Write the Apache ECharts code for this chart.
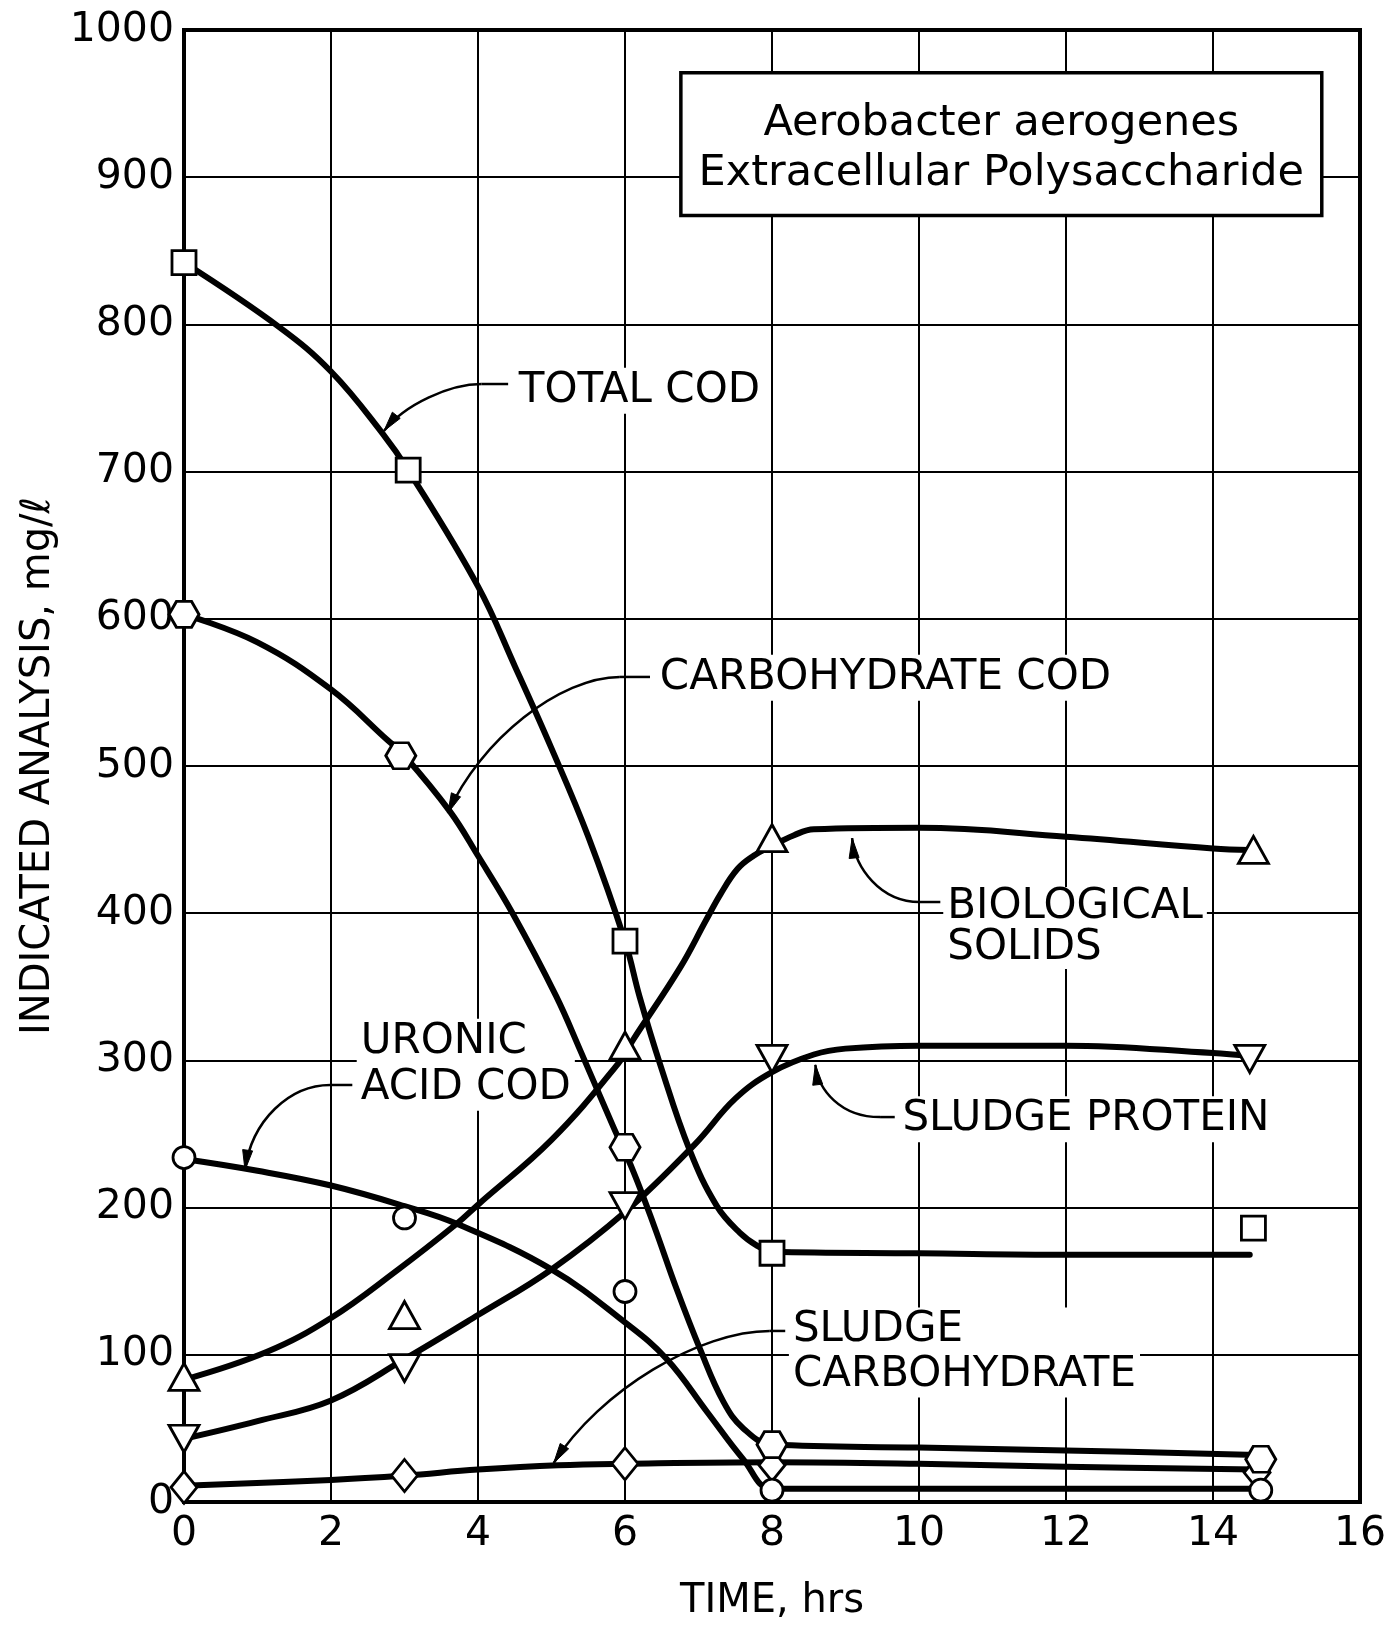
<!DOCTYPE html>
<html>
<head>
<meta charset="utf-8">
<script src="https://cdn.jsdelivr.net/npm/echarts/dist/echarts.min.js"></script>
<style>
html,body{margin:0;padding:0;background:#fff;}
#c{width:1393px;height:1625px;}
</style>
</head>
<body>
<div id="c"></div>
<script>
// ---------- DATA ----------
const xTicks = [0, 2, 4, 6, 8, 10, 12, 14, 16];
const yTicks = [0, 100, 200, 300, 400, 500, 600, 700, 800, 900, 1000];

// measured points (markers)
const totalCodPoints = [[0, 842], [3.05, 701], [6, 381], [8, 169], [14.55, 186]];
const carbCodPoints = [[0, 603], [2.95, 507], [6, 241], [8, 39], [14.65, 29]];
const uronicPoints = [[0, 234], [3, 193], [6, 143], [8, 8], [14.65, 8]];
const bioSolidsPoints = [[0, 85], [3, 127], [6, 310], [8, 451], [14.55, 443]];
const proteinPoints = [[0, 43], [3, 91], [6, 201], [8, 301], [14.5, 301]];
const sludgeCarbPoints = [[0, 10], [3, 18], [6, 26], [8, 25], [14.6, 20]];

// hand-drawn curves
const totalCodCurve = [[0, 842], [1.3, 798], [2, 768], [2.7, 726], [3.05, 701], [4, 622], [4.5, 568], [5, 512], [5.5, 452], [6, 381], [6.2, 343], [6.48, 297], [6.88, 239], [7.25, 201], [7.56, 183], [7.8, 174], [8, 170], [10, 169], [12, 168], [14.5, 168]];
const carbCodCurve = [[0, 603], [1, 584], [2, 552], [2.76, 518], [3, 507], [3.62, 469], [4, 439], [4.47, 400], [5.06, 344], [5.39, 307], [5.84, 255], [6.11, 225], [6.4, 187], [6.7, 145], [7.02, 104], [7.34, 68], [7.61, 50], [8, 39], [10, 37], [12, 35], [14.6, 32]];
const uronicCurve = [[0, 233], [1, 225], [2, 215], [3, 201], [3.71, 189], [5, 158], [6, 122], [6.57, 97], [7.12, 61], [7.61, 29], [8, 9], [10, 9], [12, 9], [14.6, 9]];
const bioSolidsCurve = [[0, 83], [1.13, 102], [2, 125], [2.89, 157], [3.71, 189], [4, 202], [5, 246], [5.91, 298], [6.11, 314], [6.75, 363], [7.1, 395], [7.3, 413], [7.53, 430], [7.75, 439], [7.97, 445], [8.3, 453], [8.57, 457], [10, 458], [12, 452], [14, 444], [14.5, 443]];
const proteinCurve = [[0, 43], [1, 55], [2, 69], [3, 97], [4, 127], [5, 158], [6, 197], [6.95, 243], [7.5, 274], [8, 292], [8.57, 304], [9, 308], [10, 310], [12, 310], [14, 305], [14.5, 303]];
const sludgeCarbCurve = [[0, 11], [2, 15], [3, 18], [4, 22], [5.09, 25], [6, 26], [8, 27], [10, 26], [12, 24], [14.6, 22]];

const labelTexts = ['TOTAL COD', 'CARBOHYDRATE COD', 'BIOLOGICAL\nSOLIDS', 'SLUDGE PROTEIN', 'URONIC\nACID COD', 'SLUDGE\nCARBOHYDRATE'];
const boxLines = ['Aerobacter aerogenes', 'Extracellular Polysaccharide'];

// ---------- LAYOUT (annotation anchors in data space) ----------
const labelAnchors = [[4.5, 755], [6.42, 560], [10.33, 390], [9.72, 260], [2.35, 297], [8.23, 101.6]];
const labelLineHeights = [46, 46, 41, 46, 46, 45];
// [from, start, c1, c2, tip]
const leaderPaths = [
  [[4.41, 759.5], [4.05, 759.5], [3.62, 759.5], [3.01, 746], [2.72, 727.6]],
  [[6.34, 560.5], [5.93, 560.5], [5.12, 560.5], [4.03, 517.7], [3.59, 468]],
  [[10.29, 407.6], [10.01, 407.6], [9.47, 407.6], [9.13, 431], [9.09, 451]],
  [[9.67, 261.5], [9.47, 261.5], [8.93, 261.5], [8.63, 280], [8.59, 297]],
  [[2.29, 283.3], [1.99, 283.3], [1.44, 283.3], [0.92, 259.5], [0.83, 225.5]],
  [[8.18, 116.2], [7.97, 116.2], [7.02, 116.2], [5.66, 76], [5.03, 26.5]]
];
const boxCorners = [[6.76, 971], [15.48, 874]];

const F = '"DejaVu Sans", sans-serif';
const HEX = 'path://M0,43.3 L25,0 L75,0 L100,43.3 L75,86.6 L25,86.6 Z';

function curve(name, data) {
  return {
    type: 'line', name: name + ' curve', data: data, smooth: 0.4, symbol: 'none', showSymbol: false,
    lineStyle: { color: '#000', width: 6, cap: 'round', join: 'round' }, z: 3, silent: true
  };
}
function marks(name, data, symbol, size, rot) {
  return {
    type: 'scatter', name: name, data: data, symbol: symbol, symbolSize: size, symbolRotate: rot || 0,
    symbolKeepAspect: false,
    itemStyle: { color: '#fff', borderColor: '#000', borderWidth: 2.8, opacity: 1 }, z: 5, silent: true
  };
}
function plain(v) { return String(v); }

const option = {
  animation: false,
  backgroundColor: '#fff',
  grid: { left: 184, right: 33, top: 30, bottom: 123, show: true, borderColor: '#000', borderWidth: 4, backgroundColor: 'transparent', outerBoundsMode: 'none', containLabel: false },
  xAxis: {
    type: 'value', min: xTicks[0], max: xTicks[xTicks.length - 1], interval: xTicks[1] - xTicks[0],
    name: 'TIME, hrs', nameLocation: 'middle', nameGap: 80,
    nameTextStyle: { fontFamily: F, fontSize: 40, color: '#000' },
    axisLine: { show: true, onZero: false, lineStyle: { color: '#000', width: 4 } },
    axisTick: { show: false },
    axisLabel: { fontFamily: F, fontSize: 41, color: '#000', margin: 12, formatter: plain },
    splitLine: { show: true, lineStyle: { color: '#000', width: 2 } }
  },
  yAxis: {
    type: 'value', min: yTicks[0], max: yTicks[yTicks.length - 1], interval: yTicks[1] - yTicks[0],
    name: 'INDICATED ANALYSIS, mg/\u2113', nameLocation: 'middle', nameRotate: 90, nameGap: 115,
    nameTextStyle: { fontFamily: F, fontSize: 40, color: '#000' },
    axisLine: { show: true, onZero: false, lineStyle: { color: '#000', width: 4 } },
    axisTick: { show: false },
    axisLabel: { fontFamily: F, fontSize: 41, color: '#000', margin: 10, formatter: plain },
    splitLine: { show: true, lineStyle: { color: '#000', width: 2 } }
  },
  series: [
    curve('Total COD', totalCodCurve),
    curve('Carbohydrate COD', carbCodCurve),
    curve('Uronic acid COD', uronicCurve),
    curve('Biological solids', bioSolidsCurve),
    curve('Sludge protein', proteinCurve),
    curve('Sludge carbohydrate', sludgeCarbCurve),
    marks('Sludge carbohydrate', sludgeCarbPoints, 'diamond', [26, 32]),
    marks('Sludge protein', proteinPoints, 'triangle', [30, 27], 180),
    marks('Biological solids', bioSolidsPoints, 'triangle', [30, 27]),
    marks('Uronic acid COD', uronicPoints, 'circle', 22),
    marks('Carbohydrate COD', carbCodPoints, HEX, [30, 26]),
    marks('Total COD', totalCodPoints, 'rect', 24)
  ]
};

const chart = echarts.init(document.getElementById('c'), null, { renderer: 'canvas' });
chart.setOption(option);

function P(pt) { return chart.convertToPixel({ gridIndex: 0 }, pt); }

const g = [];
// curve labels with white backing (break gridlines)
labelTexts.forEach(function (t, i) {
  const p = P(labelAnchors[i]);
  g.push({
    type: 'text', x: p[0], y: p[1], z: 1, silent: true,
    style: {
      text: t, fill: '#000', fontFamily: F, fontSize: 42, lineHeight: labelLineHeights[i],
      align: 'left', verticalAlign: 'middle', textAlign: 'left', textVerticalAlign: 'middle',
      backgroundColor: '#fff', padding: [0, 4, 0, 4]
    }
  });
});
// leader lines with arrowheads
leaderPaths.forEach(function (lp) {
  const a = P(lp[0]), b = P(lp[1]), c1 = P(lp[2]), c2 = P(lp[3]), t = P(lp[4]);
  g.push({ type: 'line', z: 4, silent: true, shape: { x1: a[0], y1: a[1], x2: b[0], y2: b[1] }, style: { stroke: '#000', lineWidth: 2.5 } });
  g.push({ type: 'bezierCurve', z: 4, silent: true, shape: { x1: b[0], y1: b[1], cpx1: c1[0], cpy1: c1[1], cpx2: c2[0], cpy2: c2[1], x2: t[0], y2: t[1] }, style: { stroke: '#000', lineWidth: 2.5, fill: null } });
  let dx = t[0] - c2[0], dy = t[1] - c2[1];
  const L = Math.sqrt(dx * dx + dy * dy) || 1; dx /= L; dy /= L;
  const len = 20, w = 5;
  const bx = t[0] - dx * len, by = t[1] - dy * len;
  g.push({ type: 'polygon', z: 4, silent: true, shape: { points: [[t[0], t[1]], [bx - dy * w, by + dx * w], [bx + dy * w, by - dx * w]] }, style: { fill: '#000', stroke: '#000', lineWidth: 1 } });
});
// title box
const b0 = P(boxCorners[0]), b1 = P(boxCorners[1]);
const bw = b1[0] - b0[0], bh = b1[1] - b0[1];
g.push({ type: 'rect', z: 1, silent: true, shape: { x: b0[0], y: b0[1], width: bw, height: bh }, style: { fill: '#fff', stroke: '#000', lineWidth: 3.5 } });
boxLines.forEach(function (t, i) {
  g.push({
    type: 'text', z: 2, silent: true, x: b0[0] + bw / 2, y: b0[1] + bh * (i === 0 ? 0.357 : 0.706),
    style: { text: t, fill: '#000', fontFamily: F, fontSize: 43, align: 'center', verticalAlign: 'middle', textAlign: 'center', textVerticalAlign: 'middle' }
  });
});
chart.setOption({ graphic: { elements: g } });
</script>
</body>
</html>
